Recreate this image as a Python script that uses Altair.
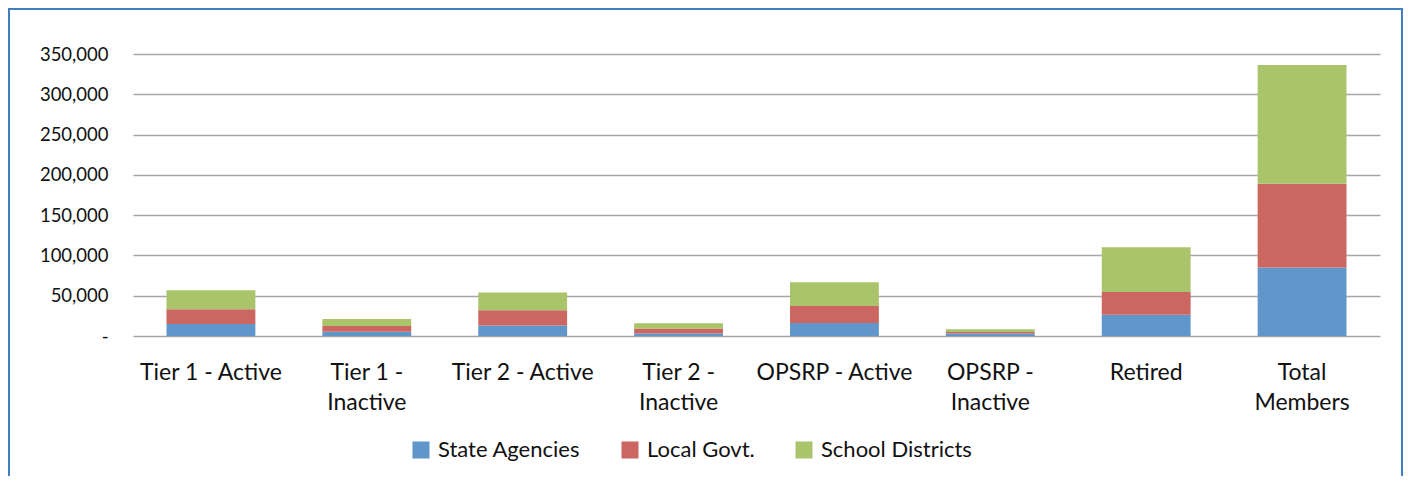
import altair as alt
import pandas as pd

categories = ["Tier 1 - Active", "Tier 1 - Inactive", "Tier 2 - Active", "Tier 2 - Inactive",
              "OPSRP - Active", "OPSRP - Inactive", "Retired", "Total Members"]
series = ["State Agencies", "Local Govt.", "School Districts"]
state_agencies = [14900, 5400, 12900, 3000, 16200, 3000, 26500, 85000]
local_govt = [18300, 7000, 19000, 6200, 21100, 2000, 28200, 103900]
school_districts = [23600, 8700, 22000, 6600, 29400, 3300, 55500, 147400]
colors = ["#6096C9", "#CC6660", "#AAC46C"]
y_ticks = [0, 50000, 100000, 150000, 200000, 250000, 300000, 350000]

rows = []
for i, c in enumerate(categories):
    for k, (s, vals) in enumerate(zip(series, [state_agencies, local_govt, school_districts])):
        rows.append({"category": c, "series": s, "value": vals[i], "order": k})
df = pd.DataFrame(rows)

FONT = "Lato"

label_expr = ("indexof(datum.label, 'Inactive') >= 0 ? [replace(datum.label, ' Inactive', ''), 'Inactive'] : "
              "datum.label == 'Total Members' ? ['Total', 'Members'] : datum.label")

bars = alt.Chart(df).mark_bar().encode(
    x=alt.X("category:N", sort=categories,
            scale=alt.Scale(paddingInner=0.43, paddingOuter=0.215),
            axis=alt.Axis(title=None, labelAngle=0, labelExpr=label_expr, labelFont=FONT,
                          labelFontSize=23, labelColor="#111111", labelLineHeight=30,
                          labelPadding=25, ticks=False, domain=False, grid=False,
                          labelBaseline="top")),
    y=alt.Y("value:Q", stack="zero",
            scale=alt.Scale(domain=[0, 350000], nice=False),
            axis=alt.Axis(title=None, values=y_ticks, format=",",
                          labelExpr="datum.value == 0 ? '-\u00a0\u00a0' : format(datum.value, ',')",
                          labelFont=FONT, labelFontSize=18.5, labelColor="#111111",
                          labelPadding=25, ticks=False, domain=False,
                          grid=True, gridColor="#A6A6A6", gridWidth=1.6)),
    color=alt.Color("series:N", sort=series,
                    scale=alt.Scale(domain=series, range=colors),
                    legend=alt.Legend(title=None, orient="none", direction="horizontal",
                                      legendX=277, legendY=385, columns=3, columnPadding=38,
                                      symbolType="square", symbolSize=290, symbolStrokeWidth=0,
                                      labelFont=FONT, labelFontSize=22, labelColor="#111111",
                                      labelOffset=6, symbolOpacity=1)),
    order=alt.Order("order:Q", sort="ascending"),
)

frame = alt.Chart(pd.DataFrame({"a": [0]})).mark_rect(
    fill=None, stroke="#3F7FC2", strokeWidth=2, clip=False
).encode(
    x=alt.value(-124), x2=alt.value(1269), y=alt.value(-45), y2=alt.value(440)
)

chart = alt.layer(bars, frame).properties(
    width=1247, height=282,
    background="white",
    autosize=alt.AutoSizeParams(type="none"),
    padding={"left": 125, "top": 46, "right": 23, "bottom": 140},
).configure_view(stroke=None)

chart.save("out.html", embed_options={"renderer": "svg", "actions": False})
